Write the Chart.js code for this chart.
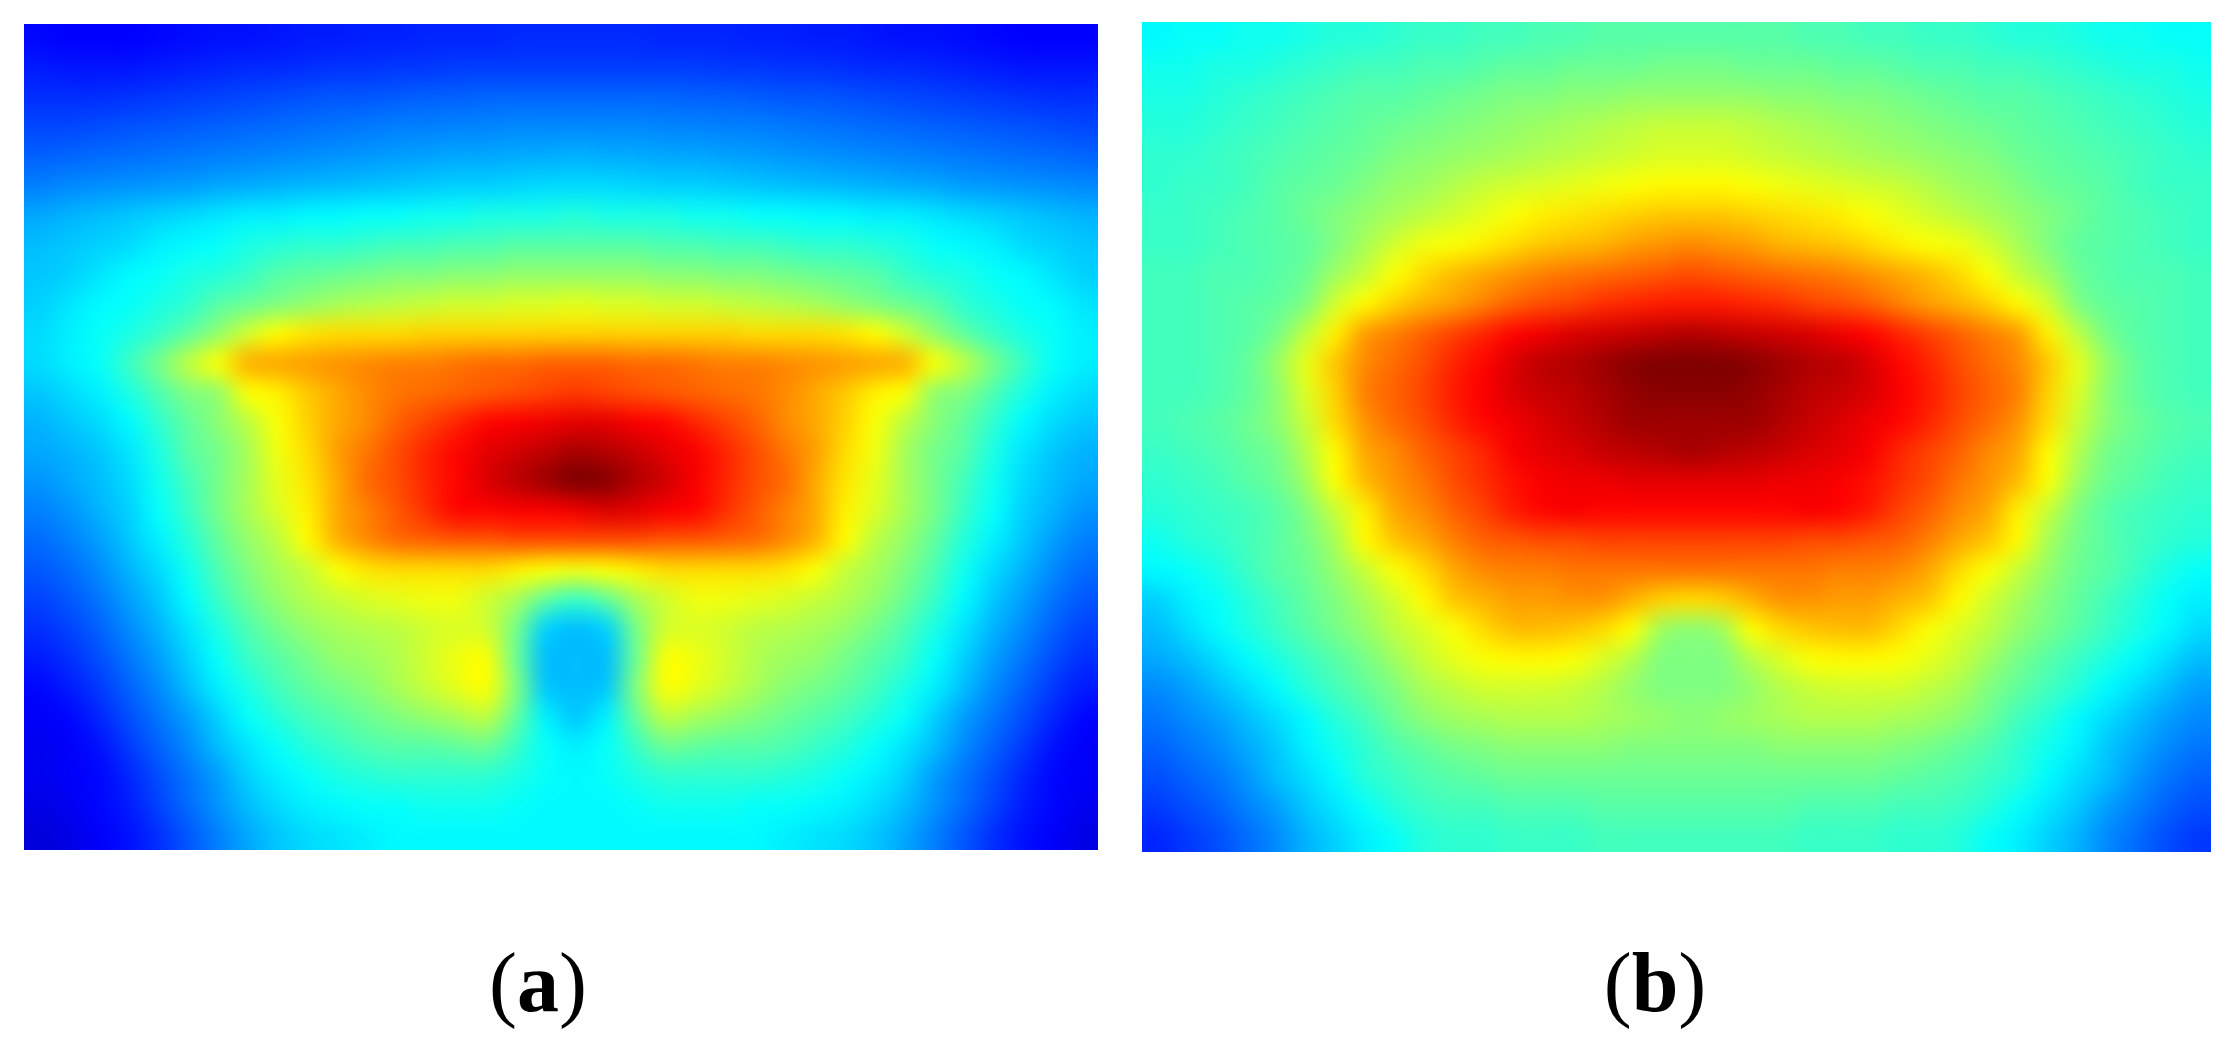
<!DOCTYPE html>
<html>
<head>
<meta charset="utf-8">
<script src="https://cdn.jsdelivr.net/npm/chart.js@4"></script>
<style>
  html, body { margin: 0; background: #fff; width: 2237px; height: 1042px; overflow: hidden; }
  .panel { position: absolute; }
  .cap { position: absolute; top: 934px; width: 200px; text-align: center; font: 84px "Liberation Serif", serif; color: #000; }
  .cap b { font-weight: bold; }
</style>
</head>
<body>
<div class="panel" style="left:24px;top:24px;width:1074px;height:826px"><canvas id="chartA"></canvas></div>
<div class="panel" style="left:1142px;top:22px;width:1069px;height:830px"><canvas id="chartB"></canvas></div>
<div class="cap" style="left:438px">(<b>a</b>)</div>
<div class="cap" style="left:1555px">(<b>b</b>)</div>
<script>
// heat values, 0-100 on the jet scale, one row per line
const panelA = [
  [13,12.5,12.5,12.5,13,13.5,14,14,14.5,15,15,15.5,15.5,16,16,16,16.5,16.5,16.5,16.5,16.5,16,16,16,15.5,15.5,15,15,14.5,14,14,13.5,13,12.5,12.5,12.5],
  [15,14.5,14.5,14.5,15,15.5,16,16.5,16.5,17,17.5,17.5,18,18,18.5,18.5,18.5,18.5,18.5,18.5,18.5,18.5,18.5,18,18,17.5,17.5,17,16.5,16.5,16,15.5,15,14.5,14.5,14.5],
  [17,17,17,17.5,18,18.5,19,19.5,20,20.5,21,21,21.5,22,22,22.5,22.5,22.5,22.5,22.5,22.5,22.5,22,22,21.5,21,21,20.5,20,19.5,19,18.5,18,17.5,17,17],
  [19.5,19.5,20,20.5,21,21.5,22,22.5,23,23.5,24,24.5,25,25,25.5,25.5,26,26,26,26,26,25.5,25.5,25,25,24.5,24,23.5,23,22.5,22,21.5,21,20.5,20,19.5],
  [22,22.5,23,23.5,24,24.5,25,25.5,26,26.5,27,27.5,28,28.5,29,29,29.5,29.5,30,29.5,29.5,29,29,28.5,28,27.5,27,26.5,26,25.5,25,24.5,24,23.5,23,22.5],
  [25,26,26.5,27,27.5,28,29,29.5,30,30.5,31,31.5,32,32.5,33,33,33.5,34,34,34,33.5,33,33,32.5,32,31.5,31,30.5,30,29.5,29,28,27.5,27,26.5,26],
  [29,30,31,32,33,34,35,36,36,37,37,38,38,39,39,40,40,40,41,40,40,40,39,39,38,38,37,37,36,36,35,34,33,32,31,30],
  [31,32,33,34,36,37,38,40,41,42,42,43,44,44,45,45,46,46,46,46,46,45,45,44,44,43,42,42,41,40,38,37,36,34,33,32],
  [32,33,35,37,38,40,41,43,46,47,48,49,50,50,51,51,52,52,52,52,52,51,51,50,50,49,48,47,46,43,41,40,38,37,35,33],
  [33,35,37,38,40,42,46,48,50,52,54,55,56,57,58,58,59,59,60,59,59,58,58,57,56,55,54,52,50,48,46,42,40,38,37,35],
  [34,36,38,40,43,47,52,58,63,65,66,66,66,67,67,67,67,67,67,67,67,67,67,67,66,66,66,65,63,58,52,47,43,40,38,36],
  [34,36,38,43,49,56,62,70,71,72,73,74,75,75,76,77,77,78,78,78,77,77,76,75,75,74,73,72,71,70,62,56,49,43,38,36],
  [32,34,36,40,45,50,52,62,64,68,71,74,76,77,78,79,80,81,82,81,80,79,78,77,76,74,71,68,64,62,52,50,45,40,36,34],
  [30,32,34,37,42,47,51,56,62,67,71,74,78,81,84,87,88,89,90,90,88,87,84,81,78,74,71,67,62,56,51,47,42,37,34,32],
  [29,30,32,35,40,46,49,54,61,66,72,76,80,84,87,90,92,94,96,95,93,90,88,84,80,76,72,66,61,54,49,46,40,35,32,30],
  [27,29,31,34,39,44,49,54,60,65,71,77,80,84,87,91,94,97,100,99,95,92,88,84,80,77,71,65,60,54,49,44,39,34,31,29],
  [25,27,30,33,38,43,49,54,59,64,71,75,79,83,87,87,88,88,89,91,90,88,87,83,79,75,71,64,59,54,49,43,38,33,30,27],
  [23,25,28,32,36,41,47,52,56,63,70,74,77,78,79,79,80,80,80,80,80,79,79,78,77,74,70,63,56,52,47,41,36,32,28,25],
  [21,23,26,30,34,39,45,50,54,57,62,65,66,66,66,66,64,62,61,62,64,66,66,66,66,65,62,57,54,50,45,39,34,30,26,23],
  [19,21,24,28,32,37,43,48,52,55,57,59,60,61,61,58,54,47,43,47,54,58,61,61,60,59,57,55,52,48,43,37,32,28,24,21],
  [17,19,22,26,30,35,40,45,49,52,54,55,56,58,59,58,49,33,31,33,49,58,59,58,56,55,54,52,49,45,40,35,30,26,22,19],
  [15,17,20,24,28,33,38,43,46,49,52,53,55,58,61,62,48,31,31,31,48,62,61,58,55,53,52,49,46,43,38,33,28,24,20,17],
  [13,15,18,22,26,31,36,40,44,47,49,51,54,57,60,62,50,32,31,32,50,62,60,57,54,51,49,47,44,40,36,31,26,22,18,15],
  [12,13,16,20,24,28,33,38,41,44,46,48,50,52,54,56,47,36,32,36,47,56,54,52,50,48,46,44,41,38,33,28,24,20,16,13],
  [11,12,14,18,22,26,31,35,38,41,43,45,46,46,47,48,43,38,36,38,43,48,47,46,46,45,43,41,38,35,31,26,22,18,14,12],
  [11,12,13,16,20,24,28,33,36,38,40,41,42,42,42,42,40,38,37,38,40,42,42,42,42,41,40,38,36,33,28,24,20,16,13,12],
  [10,11,13,15,19,23,27,31,34,36,37,38,38,39,39,39,38,37,37,37,38,39,39,39,38,38,37,36,34,31,27,23,19,15,13,11],
  [9,10,12,14,17,21,25,29,32,34,35,36,37,37,37,37,37,37,37,37,37,37,37,37,37,36,35,34,32,29,25,21,17,14,12,10]
];

const panelB = [
  [37,38,38,39,39,40,41,41,42,43,43,44,44,45,45,46,46,46,46,46,46,46,45,45,44,44,43,43,42,41,41,40,39,39,38,38],
  [39,39,40,40,41,42,43,44,44,45,45,46,47,47,48,48,48,49,49,49,48,48,48,47,47,46,45,45,44,44,43,42,41,40,40,39],
  [40,40,41,42,43,44,45,46,46,47,48,49,50,50,51,51,52,52,52,52,52,51,51,50,50,49,48,47,46,46,45,44,43,42,41,40],
  [41,41,42,43,44,45,46,47,48,49,50,51,52,53,54,55,56,57,57,57,56,55,54,53,52,51,50,49,48,47,46,45,44,43,42,41],
  [42,42,43,44,45,46,47,48,50,51,52,53,54,55,56,57,58,59,59,59,58,57,56,55,54,53,52,51,50,48,47,46,45,44,43,42],
  [42,43,43,44,46,47,48,50,52,53,55,57,58,59,60,61,62,63,63,63,62,61,60,59,58,57,55,53,52,50,48,47,46,44,43,43],
  [43,43,44,45,46,48,50,52,54,56,58,60,62,64,65,66,67,68,68,68,67,66,65,64,62,60,58,56,54,52,50,48,46,45,44,43],
  [43,43,44,45,46,47,50,54,58,61,62,64,66,68,69,70,72,73,74,73,72,70,69,68,66,64,62,61,58,54,50,47,46,45,44,43],
  [44,44,45,45,46,48,53,57,62,66,69,71,73,75,76,77,78,79,80,79,78,77,76,75,73,71,69,66,62,57,53,48,46,45,45,44],
  [44,44,45,46,47,50,58,63,67,70,72,75,78,80,81,83,84,85,85,85,84,83,81,80,78,75,72,70,67,63,58,50,47,46,45,44],
  [44,44,45,46,49,56,64,72,75,78,81,84,87,89,91,92,93,94,95,94,93,92,91,89,87,84,81,78,75,72,64,56,49,46,45,44],
  [44,44,45,47,52,60,68,74,77,80,84,87,91,94,95,97,99,100,100,100,99,97,95,94,91,87,84,80,77,74,68,60,52,47,45,44],
  [44,44,45,47,51,59,67,75,78,81,85,88,91,93,94,96,98,99,99,99,98,96,94,93,91,88,85,81,78,75,67,59,51,47,45,44],
  [44,45,46,48,51,57,66,73,77,80,84,87,89,91,93,95,97,97,97,97,97,95,93,91,89,87,84,80,77,73,66,57,51,48,46,45],
  [43,44,45,47,49,55,63,71,74,78,81,84,88,90,91,93,94,95,96,95,94,93,91,90,88,84,81,78,74,71,63,55,49,47,45,44],
  [42,43,44,46,48,53,62,69,73,76,80,83,86,88,89,89,90,90,90,90,90,89,89,88,86,83,80,76,73,69,62,53,48,46,44,43],
  [41,42,43,44,46,50,57,64,71,74,78,81,85,87,88,87,87,87,87,87,87,87,88,87,85,81,78,74,71,64,57,50,46,44,43,42],
  [39,41,42,44,46,49,54,63,68,71,75,78,79,80,80,81,81,81,81,81,81,81,80,80,79,78,75,71,68,63,54,49,46,44,42,41],
  [37,38,40,43,46,48,52,57,62,66,71,74,75,75,76,76,76,76,76,76,76,76,76,75,75,74,71,66,62,57,52,48,46,43,40,38],
  [33,36,38,41,44,47,50,54,58,63,68,70,72,72,73,73,70,67,66,67,70,73,73,72,72,70,68,63,58,54,50,47,44,41,38,36],
  [31,34,37,40,43,46,49,52,56,59,62,66,69,69,68,66,62,53,51,53,62,66,68,69,69,66,62,59,56,52,49,46,43,40,37,34],
  [29,31,34,37,40,43,46,49,53,57,60,62,63,63,62,59,55,50,50,50,55,59,62,63,63,62,60,57,53,49,46,43,40,37,34,31],
  [26,28,31,34,37,41,44,47,50,54,56,58,58,58,57,55,52,50,50,50,52,55,57,58,58,58,56,54,50,47,44,41,37,34,31,28],
  [24,26,28,31,34,37,41,44,48,51,53,54,55,55,55,54,53,52,51,52,53,54,55,55,55,54,53,51,48,44,41,37,34,31,28,26],
  [22,24,26,29,32,36,39,42,45,47,49,50,51,51,51,51,50,50,50,50,50,51,51,51,51,50,49,47,45,42,39,36,32,29,26,24],
  [20,22,24,27,31,34,37,41,43,45,46,47,48,48,48,48,48,48,48,48,48,48,48,48,48,47,46,45,43,41,37,34,31,27,24,22],
  [18,20,22,25,28,32,35,38,41,43,44,44,45,45,45,46,46,46,46,46,46,46,45,45,45,44,44,43,41,38,35,32,28,25,22,20],
  [16,18,20,23,26,30,33,36,38,41,42,42,43,43,43,44,44,44,44,44,44,44,43,43,43,42,42,41,38,36,33,30,26,23,20,18]
];

function clamp01(v) { return Math.max(0, Math.min(1, v)); }

// jet colour map
function jet(v) {
  const t = v / 100;
  const r = Math.round(255 * clamp01(1.5 - Math.abs(4 * t - 3)));
  const g = Math.round(255 * clamp01(1.5 - Math.abs(4 * t - 2)));
  const b = Math.round(255 * clamp01(1.5 - Math.abs(4 * t - 1)));
  return `rgb(${r},${g},${b})`;
}

// resample the drawn cells so the heat map looks continuous, like the original
const smoothCells = {
  id: 'smoothCells',
  afterDatasetsDraw(chart, args, opts) {
    const area = chart.chartArea;
    const w = area.right - area.left;
    const h = area.bottom - area.top;
    const small = document.createElement('canvas');
    small.width = opts.cols;
    small.height = opts.rows;
    const sctx = small.getContext('2d');
    sctx.imageSmoothingEnabled = false;
    sctx.drawImage(chart.canvas, area.left, area.top, w, h, 0, 0, opts.cols, opts.rows);
    const ctx = chart.ctx;
    ctx.save();
    ctx.imageSmoothingEnabled = true;
    ctx.imageSmoothingQuality = 'high';
    ctx.drawImage(small, area.left, area.top, w, h);
    ctx.restore();
  }
};

function drawHeat(id, rows) {
  const nRows = rows.length;
  const nCols = rows[0].length;
  const points = [];
  const colors = [];
  rows.forEach((row, j) => row.forEach((v, i) => {
    points.push({ x: i + 0.5, y: j + 0.5 });
    colors.push(jet(v));
  }));
  const el = document.getElementById(id);
  const cellW = el.parentNode.clientWidth / nCols;
  const cellH = el.parentNode.clientHeight / nRows;

  new Chart(el, {
    type: 'scatter',
    data: {
      datasets: [{
        data: points,
        pointStyle: 'rect',
        pointRadius: Math.max(cellW, cellH) * 0.75,
        pointBackgroundColor: colors,
        pointBorderWidth: 0
      }]
    },
    options: {
      responsive: true,
      maintainAspectRatio: false,
      animation: false,
      devicePixelRatio: 1,
      layout: { padding: 0, autoPadding: false },
      scales: {
        x: { type: 'linear', min: 0, max: nCols, display: false },
        y: { type: 'linear', min: 0, max: nRows, reverse: true, display: false }
      },
      plugins: {
        legend: { display: false },
        tooltip: { enabled: false },
        smoothCells: { cols: nCols, rows: nRows }
      }
    },
    plugins: [smoothCells]
  });
}

drawHeat('chartA', panelA);
drawHeat('chartB', panelB);
</script>
</body>
</html>
